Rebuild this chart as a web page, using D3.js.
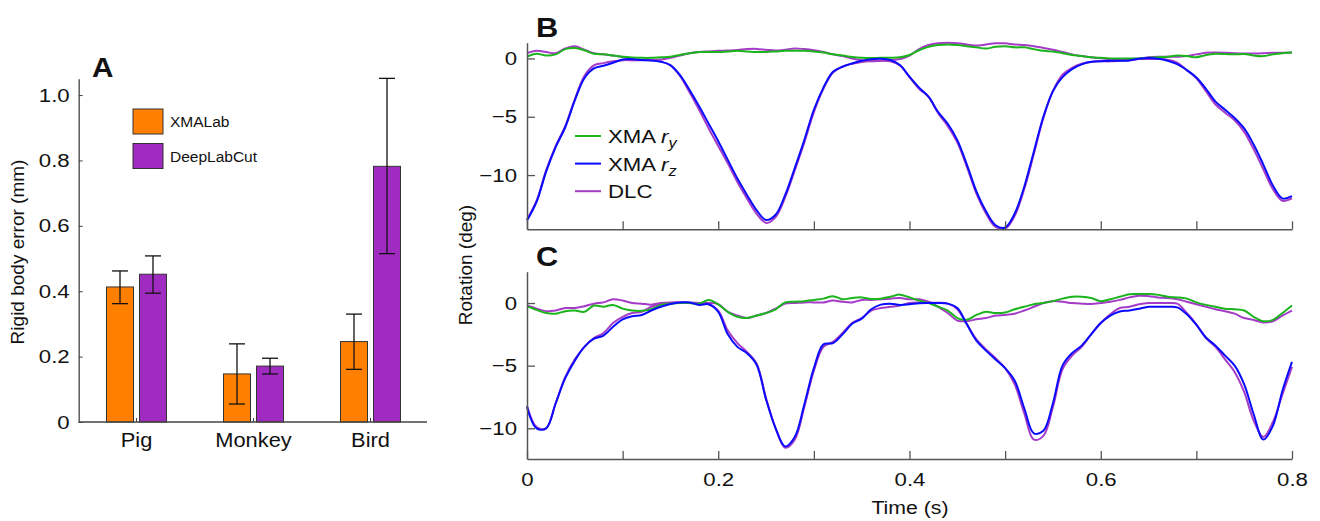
<!DOCTYPE html>
<html>
<head>
<meta charset="utf-8">
<script src="https://d3js.org/d3.v7.min.js"></script>
<style>
  body { margin: 0; background: #fff; }
  text { font-family: "Liberation Sans", Arial, sans-serif; fill: #111; }
</style>
</head>
<body>
<svg width="1320" height="521"></svg>
<script>
// ---- panel A data ----
const species = ['Pig', 'Monkey', 'Bird'];
const xmaErr = [0.413, 0.147, 0.246];
const xmaLo = [0.362, 0.055, 0.161];
const xmaHi = [0.462, 0.239, 0.330];
const dlcErr = [0.452, 0.171, 0.782];
const dlcLo = [0.394, 0.147, 0.515];
const dlcHi = [0.508, 0.195, 1.051];
const barTicks = [0, 0.2, 0.4, 0.6, 0.8, 1.0];

// ---- panels B and C data (sampled every 0.01 s) ----
const time = d3.range(81).map(i => i / 100);
const timeTicks = [0, 0.2, 0.4, 0.6, 0.8];
const timeMinor = [0.1, 0.3, 0.5, 0.7];

const bXmaRy = [0.15,0.4,0.25,0.35,0.8,0.9,0.7,0.4,0.35,0.25,0.14,0.08,0.05,0.05,0.1,0.15,0.3,0.45,0.55,0.55,
  0.55,0.6,0.65,0.6,0.55,0.55,0.6,0.66,0.66,0.66,0.6,0.5,0.35,0.25,0.12,0.05,0.03,0.06,0.06,0.1,
  0.3,0.7,1.0,1.15,1.2,1.15,1.05,0.95,0.85,1.0,1.05,0.95,0.95,0.8,0.65,0.6,0.45,0.3,0.2,0.1,
  0.05,0,0,0,0,0.05,0.1,0.15,0.25,0.2,0.1,0.3,0.4,0.38,0.35,0.38,0.25,0.2,0.35,0.45,0.5];
const bXmaRz = [-13.9,-12.3,-9.7,-7.6,-5.9,-3.6,-1.7,-0.86,-0.63,-0.37,-0.09,-0.06,-0.14,-0.17,-0.29,-0.57,-1.43,-2.7,-4.1,-5.6,
  -7.1,-8.7,-10.3,-11.7,-13.0,-13.85,-13.4,-11.7,-9.4,-7.0,-4.4,-2.5,-1.14,-0.71,-0.43,-0.2,-0.06,-0.03,-0.14,-0.57,
  -1.57,-2.5,-3.3,-4.6,-5.6,-7.0,-9.1,-11.4,-13.1,-14.3,-14.5,-13.3,-11.0,-8.0,-5.0,-2.8,-1.6,-0.91,-0.51,-0.29,
  -0.23,-0.2,-0.2,-0.17,-0.03,0.03,-0.03,-0.2,-0.49,-1.0,-1.63,-2.6,-3.7,-4.4,-5.1,-6.0,-7.4,-9.1,-10.9,-12.0,-11.8];
const bDlcRy = [0.45,0.65,0.55,0.45,0.85,1.05,0.75,0.45,0.35,0.25,0.12,-0.05,-0.12,-0.14,-0.1,0.05,0.25,0.45,0.55,0.6,
  0.65,0.68,0.72,0.8,0.82,0.75,0.68,0.75,0.86,0.8,0.7,0.55,0.35,0.2,0,-0.15,-0.25,-0.2,-0.15,-0.05,
  0.25,0.8,1.15,1.3,1.34,1.3,1.2,1.1,1.2,1.3,1.3,1.2,1.15,1.05,0.9,0.75,0.55,0.35,0.2,0.1,
  0.02,-0.05,-0.08,-0.05,0,0.1,0.14,0.14,0.15,0.2,0.35,0.48,0.5,0.48,0.45,0.43,0.43,0.45,0.48,0.49,0.5];
const bDlcRz = [-13.8,-12.2,-9.6,-7.5,-5.8,-3.5,-1.5,-0.6,-0.4,-0.25,-0.15,-0.15,-0.15,-0.15,-0.25,-0.6,-1.5,-2.9,-4.4,-6.0,
  -7.5,-9.0,-10.6,-12.0,-13.3,-14.1,-13.6,-11.9,-9.6,-7.2,-4.6,-2.6,-1.2,-0.7,-0.45,-0.3,-0.2,-0.2,-0.25,-0.6,
  -1.6,-2.6,-3.3,-4.7,-5.8,-7.2,-9.3,-11.6,-13.3,-14.45,-14.6,-13.5,-11.2,-8.2,-5.1,-2.8,-1.4,-0.8,-0.45,-0.3,
  -0.25,-0.25,-0.2,-0.15,-0.05,-0.05,-0.05,-0.1,-0.35,-1.0,-1.7,-2.8,-3.95,-4.65,-5.3,-6.3,-7.8,-9.5,-11.2,-12.2,-12.0];

const cXmaRy = [-0.27,-0.55,-0.8,-0.85,-0.65,-0.6,-0.7,-0.2,-0.3,-0.15,-0.45,-0.6,-0.62,-0.5,-0.15,-0.05,0,0,-0.05,0.25,
  -0.1,-0.7,-1.1,-1.2,-1.0,-0.8,-0.5,0.05,0.1,0.15,0.25,0.35,0.55,0.3,0.4,0.45,0.32,0.35,0.5,0.67,
  0.45,0.2,0,-0.3,-0.6,-1.2,-1.33,-0.95,-0.7,-0.8,-0.75,-0.5,-0.3,-0.1,0,0.15,0.35,0.5,0.5,0.4,
  0.15,0.3,0.5,0.7,0.72,0.72,0.65,0.5,0.45,0.35,0.05,-0.15,-0.3,-0.45,-0.5,-0.6,-1.1,-1.45,-1.35,-0.8,-0.2];
const cXmaRz = [-8.3,-10.0,-10.0,-8.0,-6.0,-4.6,-3.5,-2.85,-2.6,-1.9,-1.3,-1.05,-0.95,-0.6,-0.3,-0.08,0.05,0.05,-0.15,-0.1,
  -0.7,-2.5,-3.5,-4.0,-4.9,-7.7,-10.0,-11.45,-10.7,-8.1,-5.2,-3.3,-3.2,-2.5,-1.65,-1.25,-0.5,-0.13,-0.05,-0.15,
  -0.1,-0.02,0,0,-0.05,-0.4,-1.7,-3.0,-3.8,-4.5,-5.2,-6.2,-8.4,-10.4,-10.2,-8.0,-5.0,-4.0,-3.4,-2.5,
  -1.6,-1.0,-0.67,-0.6,-0.45,-0.3,-0.3,-0.3,-0.35,-0.9,-1.75,-2.75,-3.4,-4.2,-5.0,-6.5,-8.9,-10.9,-9.8,-7.0,-4.7];
const cDlcRy = [-0.2,-0.45,-0.65,-0.6,-0.4,-0.4,-0.25,-0.05,0.05,0.3,0.2,0,-0.05,-0.13,0,0.05,0.05,0,0,0,
  -0.1,-0.7,-1.0,-1.2,-1.0,-0.8,-0.45,-0.05,0,0.05,0.05,0.05,0.2,0.1,0.05,0.25,0.25,0.3,0.35,0.4,
  0.3,0.3,0.1,-0.3,-0.8,-1.4,-1.45,-1.3,-1.2,-1.0,-0.95,-0.85,-0.6,-0.3,0,0.15,0.1,0,-0.05,-0.08,
  0,0.1,0.25,0.45,0.58,0.55,0.45,0.4,0.3,0.1,-0.1,-0.3,-0.5,-0.65,-0.85,-1.2,-1.35,-1.55,-1.45,-1.0,-0.6];
const cDlcRz = [-8.2,-9.9,-10.0,-8.0,-5.9,-4.5,-3.5,-2.8,-2.4,-1.6,-1.1,-0.8,-0.7,-0.3,-0.1,0,0.05,0.05,0,-0.1,
  -0.6,-2.2,-3.2,-3.9,-4.8,-7.6,-10.0,-11.55,-10.9,-8.3,-5.4,-3.5,-3.1,-2.4,-1.6,-1.2,-0.6,-0.4,-0.3,-0.2,
  0,0.05,0.05,0.02,-0.05,-0.5,-1.7,-2.9,-3.7,-4.4,-5.2,-6.5,-8.8,-10.9,-10.6,-8.3,-5.3,-4.2,-3.5,-2.5,
  -1.6,-0.9,-0.4,-0.3,-0.1,0,0,0,-0.05,-0.8,-1.7,-2.8,-3.5,-4.5,-5.5,-7.1,-9.4,-10.7,-9.5,-7.3,-5.1];

const rotTicks = [-10, -5, 0];

const ORANGE = '#ff8000', VIOLET = '#a02bc0';
const GREEN = '#1cb41c', BLUE = '#0a0aff', DLCLINE = '#a53cc8';
const AXIS = '#444';

const svg = d3.select('svg');

// the original figure's text is a bit wider than Liberation Sans, stretch it sideways
function stretch(sel, k) {
  sel.each(function() {
    const t = d3.select(this);
    const x = +t.attr('x') || 0, y = +t.attr('y') || 0;
    t.attr('x', 0).attr('y', 0).attr('transform', `translate(${x},${y}) scale(${k},1)`);
  });
}

// ================= Panel A =================
const yA = d3.scaleLinear().domain([0, 1.05]).range([422, 78.7]);
const xA = d3.scaleBand().domain(species).range([78, 429]);
const gA = svg.append('g');

const groups = species.map((s, i) => ({s, i}));
// bars
gA.selectAll('rect.xma').data(groups).enter().append('rect')
  .attr('x', d => xA(d.s) + xA.bandwidth() / 2 - 30)
  .attr('width', 27)
  .attr('y', d => yA(xmaErr[d.i]))
  .attr('height', d => yA(0) - yA(xmaErr[d.i]))
  .attr('fill', ORANGE).attr('stroke', '#333').attr('stroke-width', 1);
gA.selectAll('rect.dlc').data(groups).enter().append('rect')
  .attr('x', d => xA(d.s) + xA.bandwidth() / 2 + 3)
  .attr('width', 27)
  .attr('y', d => yA(dlcErr[d.i]))
  .attr('height', d => yA(0) - yA(dlcErr[d.i]))
  .attr('fill', VIOLET).attr('stroke', '#333').attr('stroke-width', 1);

// error bars
const errs = [];
groups.forEach(d => {
  const c = xA(d.s) + xA.bandwidth() / 2;
  errs.push({x: c - 16.5, lo: xmaLo[d.i], hi: xmaHi[d.i]});
  errs.push({x: c + 16.5, lo: dlcLo[d.i], hi: dlcHi[d.i]});
});
const eb = gA.selectAll('g.err').data(errs).enter().append('g')
  .attr('stroke', '#111').attr('stroke-width', 1.3);
eb.append('line').attr('x1', d => d.x).attr('x2', d => d.x)
  .attr('y1', d => yA(d.lo)).attr('y2', d => yA(d.hi));
eb.append('line').attr('x1', d => d.x - 8).attr('x2', d => d.x + 8)
  .attr('y1', d => yA(d.lo)).attr('y2', d => yA(d.lo));
eb.append('line').attr('x1', d => d.x - 8).attr('x2', d => d.x + 8)
  .attr('y1', d => yA(d.hi)).attr('y2', d => yA(d.hi));

// axes A
const axAy = gA.append('g').attr('transform', 'translate(78.7,0)')
  .call(d3.axisLeft(yA).tickValues(barTicks).tickSizeInner(-4).tickSizeOuter(0).tickPadding(9)
    .tickFormat(d => d === 0 ? '0' : d3.format('.1f')(d)));
const axAx = gA.append('g').attr('transform', 'translate(0,422)')
  .call(d3.axisBottom(xA).tickSizeInner(-4).tickSizeOuter(0).tickPadding(11));
[axAy, axAx].forEach(a => {
  a.select('.domain').attr('stroke', AXIS).attr('stroke-width', 1.3);
  a.selectAll('.tick line').attr('stroke', AXIS);
  a.selectAll('text').attr('font-size', 19).attr('fill', '#111')
    .style('font-family', '"Liberation Sans", Arial, sans-serif');
});
axAx.selectAll('text').attr('font-size', 19.5);
axAx.select('.domain').attr('d', 'M78.7,0H427');
stretch(axAy.selectAll('text'), 1.17);
stretch(axAx.selectAll('text'), 1.12);

gA.append('text').attr('transform', 'translate(24,252) rotate(-90)')
  .attr('text-anchor', 'middle').attr('font-size', 19).text('Rigid body error (mm)');
stretch(gA.append('text').attr('x', 92).attr('y', 77).attr('font-size', 27)
  .attr('font-weight', 'bold').text('A'), 1.1);

// legend A
const legA = [{label: 'XMALab', color: ORANGE}, {label: 'DeepLabCut', color: VIOLET}];
const la = gA.selectAll('g.leg').data(legA).enter().append('g')
  .attr('transform', (d, i) => `translate(133,${109 + i * 34.5})`);
la.append('rect').attr('width', 30).attr('height', 25)
  .attr('fill', d => d.color).attr('stroke', '#333');
la.append('text').attr('x', 37).attr('y', 18).attr('font-size', 15.5).text(d => d.label);

// ================= Panels B, C =================
const xT = d3.scaleLinear().domain([0, 0.8]).range([527, 1292]);

function panel(yDom, yRange, series, showX, letter) {
  const y = d3.scaleLinear().domain(yDom).range(yRange);
  const g = svg.append('g');
  const line = d3.line().x((d, i) => xT(time[i])).y(d => y(d)).curve(d3.curveCatmullRom.alpha(0.5));
  series.forEach(s => {
    g.append('path').datum(s.values).attr('d', line)
      .attr('fill', 'none').attr('stroke', s.color).attr('stroke-width', s.w)
      .attr('stroke-linejoin', 'round');
  });
  const ay = g.append('g').attr('transform', `translate(${xT(0)},0)`)
    .call(d3.axisLeft(y).tickValues(rotTicks).tickSizeInner(-8).tickSizeOuter(0).tickPadding(10)
      .tickFormat(d => d < 0 ? '\u2212' + Math.abs(d) : d));
  const ax = g.append('g').attr('transform', `translate(0,${yRange[0]})`)
    .call(d3.axisBottom(xT).tickValues(timeTicks.concat(timeMinor)).tickSizeInner(-8).tickSizeOuter(0)
      .tickPadding(14).tickFormat(d => showX && timeTicks.includes(d) ? d : ''));
  [ay, ax].forEach(a => {
    a.select('.domain').attr('stroke', '#555').attr('stroke-width', 1.5);
    a.selectAll('.tick line').attr('stroke', '#555').attr('stroke-width', 1.3);
    a.selectAll('text').attr('font-size', 19).attr('fill', '#111')
      .style('font-family', '"Liberation Sans", Arial, sans-serif');
    stretch(a.selectAll('text'), 1.17);
  });
  stretch(g.append('text').attr('x', 536).attr('y', yRange[1] - 6).attr('font-size', 28)
    .attr('font-weight', 'bold').text(letter), 1.1);
  return g;
}

const gB = panel([-14.65, 1.35], [229.3, 42.7], [
  {values: bDlcRy, color: DLCLINE, w: 2},
  {values: bDlcRz, color: DLCLINE, w: 2},
  {values: bXmaRy, color: GREEN, w: 2},
  {values: bXmaRz, color: BLUE, w: 2}
], false, 'B');

panel([-12.45, 2.5], [459, 271.7], [
  {values: cDlcRy, color: DLCLINE, w: 2},
  {values: cDlcRz, color: DLCLINE, w: 2},
  {values: cXmaRy, color: GREEN, w: 2},
  {values: cXmaRz, color: BLUE, w: 2}
], true, 'C');

svg.append('text').attr('transform', 'translate(472,265) rotate(-90)')
  .attr('text-anchor', 'middle').attr('font-size', 19).text('Rotation (deg)');
stretch(svg.append('text').attr('x', 910).attr('y', 514).attr('text-anchor', 'middle')
  .attr('font-size', 19).text('Time (s)'), 1.12);

// legend B
const legB = [{name: 'XMA ', sub: 'y', color: GREEN}, {name: 'XMA ', sub: 'z', color: BLUE},
  {name: 'DLC', sub: null, color: DLCLINE}];
const lb = gB.selectAll('g.leg').data(legB).enter().append('g')
  .attr('transform', (d, i) => `translate(575,${136 + i * 27.6})`);
lb.append('line').attr('x1', 0).attr('x2', 26).attr('stroke', d => d.color).attr('stroke-width', 2);
const lt = lb.append('text').attr('x', 33).attr('y', 7).attr('font-size', 19);
lt.append('tspan').text(d => d.name);
lt.filter(d => d.sub).append('tspan').attr('font-style', 'italic').text('r');
lt.filter(d => d.sub).append('tspan').attr('font-style', 'italic').attr('font-size', 14)
  .attr('dy', 5).text(d => d.sub);
stretch(lt, 1.17);
</script>
</body>
</html>
